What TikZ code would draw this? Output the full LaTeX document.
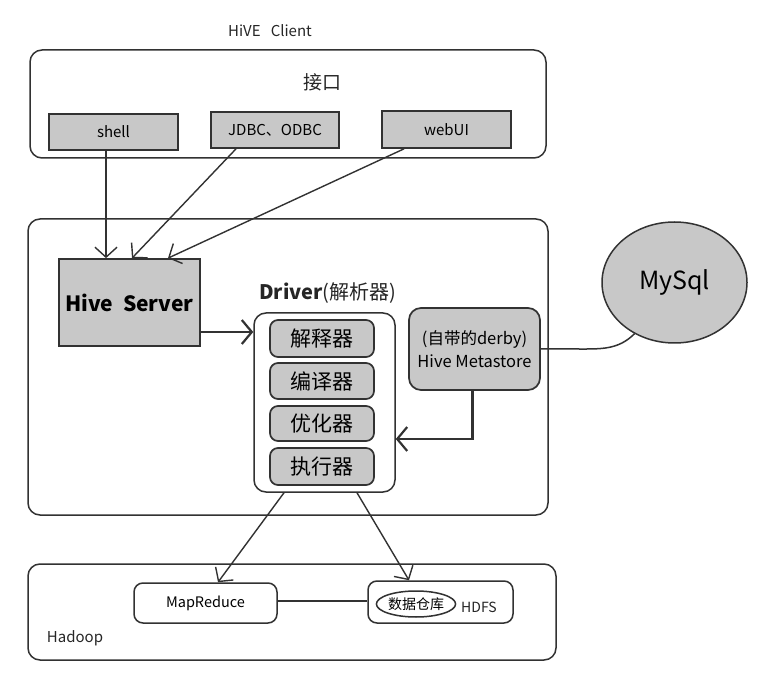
\documentclass[tikz,border=0pt]{standalone}
\usepackage{fontspec}
\setmainfont{Noto Sans CJK SC}
\usetikzlibrary{arrows.meta,shapes.geometric}
\definecolor{boxgray}{RGB}{200,200,200}
\definecolor{linegray}{RGB}{50,50,50}
\newcommand{\fs}[1]{\fontsize{#1}{#1}\selectfont}
\tikzset{
  frame/.style={draw=linegray, line width=1.5pt, rounded corners=12pt},
  graybox/.style={draw=linegray, fill=boxgray, line width=1.7pt, inner sep=0pt},
  roundgray/.style={graybox, rounded corners=8pt},
  whitebox/.style={draw=linegray, fill=white, line width=1.5pt, rounded corners=9pt, inner sep=0pt},
  arr/.style={draw=linegray, line width=1.4pt, -{Straight Barb[length=10pt,width=22pt,line width=1.4pt]}},
  thickarr/.style={draw=linegray, line width=2.8pt, -{Straight Barb[length=10pt,width=24pt,line width=2.2pt]}},
  lbl/.style={inner sep=0pt, text=black!85}
}
\begin{document}
\begin{tikzpicture}[x=1pt,y=-1pt]
\useasboundingbox (0,0) rectangle (768,684);
\fill[white] (0,0) rectangle (768,684);

% Client
\draw[frame] (30,50) rectangle (546,158);
\node[lbl] (hc) at (270,31) {\fs{15}HiVE\ \ \ Client};
\node[lbl] (jk) at (322,82) {\fs{19}接口};
\node[graybox, minimum width=129pt, minimum height=36pt] (shell) at (113.5,132) {\fs{15}shell};
\node[graybox, minimum width=128pt, minimum height=36pt] (jdbc) at (275,130) {\fs{15}JDBC、ODBC};
\node[graybox, minimum width=129pt, minimum height=37pt] (web) at (446.5,129.5) {\fs{15}webUI};

% Server frame
\draw[frame] (28,219) rectangle (548,515);
\node[graybox, minimum width=141pt, minimum height=87pt] (hs) at (129.5,302.5) {\fs{21}\bfseries Hive\ \ Server};
\node[lbl, anchor=west] (dl) at (259,293) {\fs{20}\textbf{Driver}(解析器)};
\node[whitebox, rounded corners=12pt, minimum width=141pt, minimum height=179pt] (drv) at (324.5,402.5) {};
\node[roundgray, minimum width=104pt, minimum height=37pt] (d1) at (322,338.5) {\fs{21}解释器};
\node[roundgray, minimum width=104pt, minimum height=36pt] (d2) at (322,381) {\fs{21}编译器};
\node[roundgray, minimum width=104pt, minimum height=35pt] (d3) at (322,423.5) {\fs{21}优化器};
\node[roundgray, minimum width=104pt, minimum height=37pt] (d4) at (322,466.5) {\fs{21}执行器};
\node[roundgray, rounded corners=12pt, minimum width=131pt, minimum height=82pt, align=center] (ms) at (474.5,349)
  {\fs{16.5}(自带的derby)\\[5pt]\fs{16.5}Hive Metastore};

% MySql
\node[ellipse, draw=linegray, fill=boxgray, line width=1.5pt, minimum width=145pt, minimum height=121pt, inner sep=0pt] (my) at (674.5,282.5) {\fs{25}MySql};

% Hadoop
\draw[frame] (28,564) rectangle (556,660);
\node[whitebox, minimum width=143pt, minimum height=40pt] (mr) at (205.5,603) {\fs{14.5}MapReduce};
\node[whitebox, minimum width=145pt, minimum height=42pt] (hdfs) at (440.5,602) {};
\node[ellipse, draw=linegray, line width=1.5pt, fill=white, minimum width=73pt, minimum height=26pt, inner sep=0pt] (dw) at (416,604) {\fs{14}数据仓库};
\node[lbl] (ht) at (479,607) {\fs{14}HDFS};
\node[lbl] (hd) at (75,638) {\fs{15}Hadoop};

% connectors
\draw[arr] ([xshift=-7.5pt]shell.south) -- ([xshift=-23.5pt]hs.north);
\draw[arr] ([xshift=-39pt]jdbc.south) -- ([xshift=2.5pt]hs.north);
\draw[arr] ([xshift=-42.5pt]web.south) -- ([xshift=38.5pt]hs.north);
\draw[thickarr] ([yshift=-29.5pt]hs.east) -- ([yshift=-29.5pt]hs.east -| drv.west);
\draw[thickarr] ([xshift=-2pt]ms.south) |- ([yshift=-36.5pt]drv.east);
\draw[draw=linegray, line width=1.5pt] (ms.east) -- ([xshift=38pt]ms.east) to[out=0,in=225] (my.232);
\draw[arr] ([xshift=-40.5pt]drv.south) -- ([xshift=12.5pt]mr.north);
\draw[arr] ([xshift=32.5pt]drv.south) -- ([xshift=-31.5pt]hdfs.north);
\draw[draw=linegray, line width=1.5pt] ([yshift=2pt]mr.east) -- ([yshift=1pt]hdfs.west);
\end{tikzpicture}
\end{document}
